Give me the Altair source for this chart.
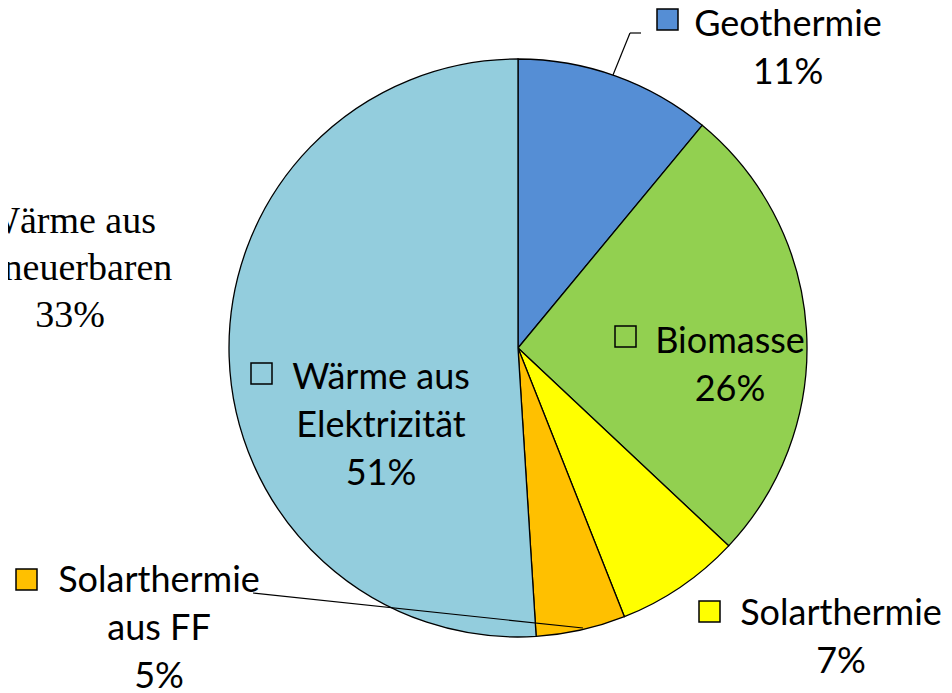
import altair as alt
import pandas as pd

# ---- data ----
categories = ["Geothermie", "Biomasse", "Solarthermie", "Solarthermie aus FF", "Wärme aus Elektrizität"]
shares = [11, 26, 7, 5, 51]
colors = ["#558ED5", "#92D050", "#FFFF00", "#FFC000", "#93CDDD"]
label_lines = [
    ["Geothermie", "11%"],
    ["Biomasse", "26%"],
    ["Solarthermie", "7%"],
    ["Solarthermie", "aus FF", "5%"],
    ["Wärme aus", "Elektrizität", "51%"],
]
extra_label = ["Wärme aus", "Erneuerbaren", "33%"]

df = pd.DataFrame({"cat": categories, "share": shares, "order": list(range(len(categories)))})

W, H = 936, 683
CX, CY, R = 510, 340, 289

pie = alt.Chart(df).mark_arc(radius=R, stroke="black", strokeWidth=1.3).encode(
    theta=alt.Theta("share:Q", stack=True),
    order=alt.Order("order:Q", sort="ascending"),
    color=alt.Color("cat:N", scale=alt.Scale(domain=categories, range=colors), legend=None),
    x=alt.value(CX),
    y=alt.value(CY),
)

layers = [pie]

# leader lines
def rule(x1, y1, x2, y2):
    return alt.Chart(df.head(1)).mark_rule(color="black", strokeWidth=1.2).encode(
        x=alt.value(x1), y=alt.value(y1), x2=alt.value(x2), y2=alt.value(y2))

layers += [rule(633, 25, 622, 25), rule(622, 25, 605, 67), rule(245, 585, 575, 620)]

# legend keys: (category index, x, y, filled)
keys = [(0, 649, 1, True), (1, 607, 318, False), (4, 243, 355, False), (2, 691, 593, True), (3, 8, 561, True)]
for idx, kx, ky, filled in keys:
    layers.append(
        alt.Chart(df.head(1)).mark_rect(
            stroke="black", strokeWidth=1.5,
            fill=colors[idx] if filled else "transparent",
        ).encode(x=alt.value(kx), x2=alt.value(kx + 21), y=alt.value(ky), y2=alt.value(ky + 21))
    )

# labels: (category index, center x, first baseline y)
label_pos = [(0, 780, 28), (1, 722, 345), (2, 833, 617), (3, 151, 584), (4, 373, 381)]
for idx, tx, ty in label_pos:
    layers.append(
        alt.Chart(df.head(1)).mark_text(
            font="Lato", fontSize=36, color="black", align="center", baseline="alphabetic",
            lineHeight=48,
        ).encode(x=alt.value(tx), y=alt.value(ty), text=alt.value(label_lines[idx]))
    )

layers.append(
    alt.Chart(df.head(1)).mark_text(
        font="Liberation Serif", fontSize=38, color="black", align="center", baseline="alphabetic",
        lineHeight=47,
    ).encode(x=alt.value(62), y=alt.value(225), text=alt.value(extra_label))
)

chart = alt.layer(*layers).properties(
    width=W, height=H, padding=0, autosize=alt.AutoSizeParams(type="none")
).configure_view(stroke=None)

chart.save("out.html", embed_options={"renderer": "svg", "actions": False})
